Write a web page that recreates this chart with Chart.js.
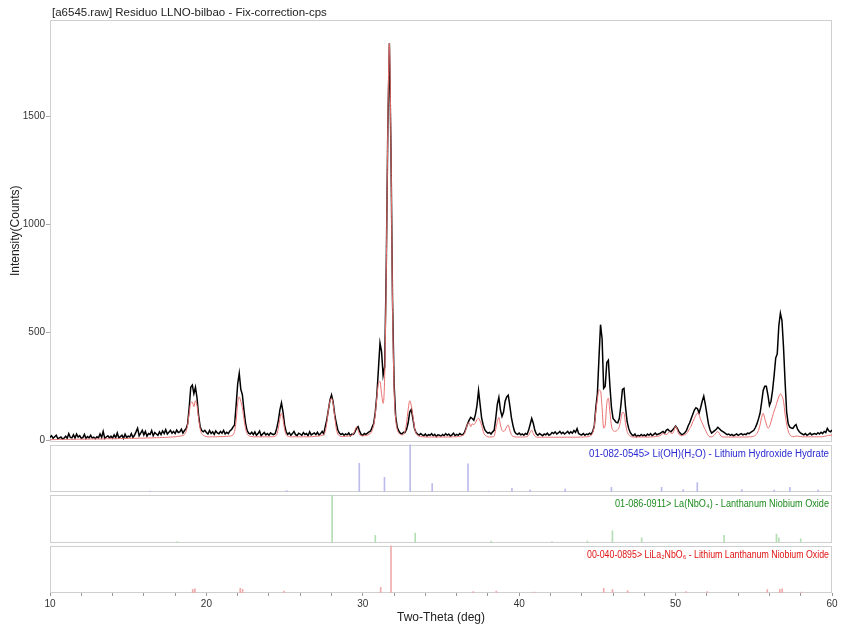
<!DOCTYPE html>
<html>
<head>
<meta charset="utf-8">
<script src="https://cdn.jsdelivr.net/npm/chart.js@4/dist/chart.umd.min.js"></script>
<style>
    html, body { margin: 0; padding: 0; background: #fff; }
    #wrap { width: 841px; height: 624px; }
</style>
</head>
<body>
<div id="wrap"><canvas id="xrd" width="841" height="624"></canvas></div>
<script>
const scanTitle = "[a6545.raw] Residuo LLNO-bilbao - Fix-correction-cps";
const scanStart = 10;
const scanStep = 0.1;
const yTickValues = [0, 500, 1000, 1500];

// measured counts, one row per degree (x.0 .. x.9)
const observed = [
    12, 20, 8, 15, 22, 6, 10, 14, 5, 9,
    18, 8, 30, 12, 10, 25, 9, 28, 14, 20,
    8, 11, 26, 7, 16, 10, 22, 9, 13, 6,
    15, 10, 28, 12, 40, 8, 14, 20, 10, 18,
    9, 24, 11, 33, 10, 16, 22, 8, 27, 12,
    18, 14, 30, 12, 22, 38, 55, 20, 32, 45,
    24, 40, 18, 30, 26, 44, 20, 35, 28, 22,
    38, 25, 42, 30, 48, 28, 36, 45, 32, 40,
    30, 46, 35, 38, 50, 32, 44, 52, 75, 150,
    245, 255, 215, 245, 195, 115, 62, 44, 38, 45,
    35, 28, 44, 30, 38, 26, 42, 33, 29, 40,
    32, 45, 28, 36, 30, 42, 48, 60, 70, 160,
    260, 310, 235, 210, 140, 80, 45, 32, 28, 36,
    25, 38, 22, 30, 42, 20, 28, 35, 24, 30,
    22, 33, 28, 25, 30, 55, 90, 140, 172, 130,
    70, 38, 26, 34, 22, 30, 40, 25, 20, 32,
    28, 22, 35, 26, 30, 20, 38, 24, 29, 33,
    25, 36, 22, 30, 40, 28, 62, 95, 140, 185,
    209, 178, 120, 80, 48, 32, 25, 30, 22, 28,
    24, 33, 20, 28, 26, 38, 55, 62, 40, 25,
    22, 30, 26, 32, 38, 42, 60, 78, 130, 210,
    330, 450, 410, 300, 340, 800, 1450, 1840, 1350, 650,
    260, 110, 60, 42, 32, 28, 36, 35, 50, 80,
    130, 142, 100, 55, 35, 28, 22, 30, 24, 20,
    28, 18, 25, 22, 30, 20, 26, 16, 24, 22,
    18, 26, 20, 30, 22, 28, 18, 24, 32, 20,
    26, 22, 30, 25, 25, 35, 55, 75, 92, 105,
    100, 92, 118, 160, 230, 165, 100, 70, 48, 38,
    32, 35, 28, 38, 45, 100, 165, 198, 140, 110,
    130, 180, 200, 208, 160, 105, 68, 40, 30, 26,
    32, 24, 28, 22, 30, 26, 45, 72, 100, 78,
    45, 28, 22, 30, 25, 20, 28, 24, 32, 22,
    26, 35, 30, 38, 28, 33, 40, 30, 36, 28,
    34, 40, 30, 38, 32, 44, 36, 53, 30, 26,
    24, 30, 22, 28, 25, 32, 26, 40, 65, 150,
    216, 380, 535, 470, 240, 250, 360, 370, 250, 150,
    100, 92, 82, 80, 100, 160, 235, 240, 150, 85,
    54, 35, 25, 20, 28, 16, 22, 18, 26, 20,
    24, 18, 28, 22, 30, 20, 26, 32, 24, 28,
    30, 35, 40, 32, 45, 50, 42, 38, 46, 55,
    65, 55, 40, 32, 24, 28, 35, 45, 65, 80,
    100, 120, 139, 150, 145, 125, 150, 180, 204, 165,
    120, 75, 48, 32, 38, 44, 50, 59, 52, 45,
    40, 35, 30, 25, 28, 22, 26, 20, 24, 28,
    22, 26, 30, 24, 28, 25, 32, 30, 35, 40,
    45, 58, 75, 98, 124, 175, 230, 250, 250, 210,
    160, 180, 230, 300, 380, 400, 530, 588, 555, 430,
    270, 130, 75, 60, 56, 54, 65, 72, 50, 40,
    32, 28, 24, 30, 22, 26, 32, 24, 28, 30,
    26, 34, 28, 36, 30, 40, 35, 54, 42, 38,
    46
];

// fitted profile (red)
const calculated = [
    2, 2, 2, 2, 2, 3, 3, 3, 3, 3,
    3, 3, 3, 3, 3, 3, 4, 4, 4, 4,
    4, 4, 4, 4, 4, 4, 5, 5, 5, 5,
    5, 5, 5, 5, 5, 5, 6, 6, 6, 6,
    6, 6, 6, 6, 7, 7, 7, 7, 7, 7,
    7, 8, 8, 8, 8, 8, 8, 9, 9, 9,
    9, 9, 10, 10, 10, 10, 10, 11, 11, 11,
    11, 12, 12, 12, 12, 13, 13, 14, 14, 15,
    15, 16, 17, 18, 19, 21, 26, 40, 70, 125,
    172, 176, 155, 182, 160, 100, 52, 30, 22, 18,
    16, 15, 15, 15, 15, 15, 15, 15, 16, 16,
    16, 16, 17, 17, 18, 18, 20, 24, 40, 90,
    170, 200, 180, 150, 100, 55, 30, 20, 17, 16,
    15, 15, 15, 15, 15, 15, 15, 15, 15, 15,
    15, 15, 15, 16, 18, 25, 55, 100, 124, 95,
    50, 25, 18, 16, 15, 15, 15, 15, 15, 15,
    15, 15, 15, 15, 15, 15, 15, 16, 16, 17,
    17, 18, 19, 20, 22, 26, 40, 80, 140, 180,
    194, 170, 110, 55, 28, 20, 17, 16, 16, 17,
    18, 19, 20, 22, 28, 45, 60, 45, 25, 20,
    19, 20, 21, 23, 26, 32, 45, 70, 120, 200,
    262, 272, 215, 170, 300, 780, 1450, 1840, 1350, 640,
    240, 100, 50, 32, 26, 24, 26, 40, 80, 140,
    182, 160, 115, 60, 32, 22, 18, 16, 15, 15,
    14, 14, 14, 14, 14, 14, 14, 14, 14, 14,
    14, 14, 14, 14, 14, 14, 14, 15, 15, 15,
    15, 16, 17, 19, 22, 30, 50, 75, 80, 62,
    75, 72, 80, 95, 101, 88, 68, 40, 24, 18,
    15, 14, 14, 15, 18, 50, 85, 105, 70, 45,
    40, 45, 62, 70, 45, 25, 17, 15, 14, 14,
    14, 14, 14, 14, 15, 16, 22, 35, 46, 30,
    18, 14, 13, 13, 13, 13, 13, 13, 13, 13,
    13, 13, 13, 13, 13, 13, 13, 13, 13, 13,
    13, 13, 13, 13, 13, 13, 13, 13, 13, 14,
    14, 14, 15, 15, 16, 18, 22, 35, 65, 130,
    190, 232, 228, 150, 55, 70, 170, 194, 130, 65,
    45, 40, 42, 48, 62, 95, 128, 125, 75, 40,
    25, 18, 15, 14, 14, 14, 14, 14, 14, 14,
    14, 14, 14, 14, 14, 15, 15, 16, 17, 18,
    20, 25, 31, 28, 25, 30, 38, 32, 30, 45,
    65, 50, 28, 22, 20, 22, 25, 30, 40, 54,
    65, 85, 100, 115, 125, 118, 95, 80, 62, 48,
    32, 20, 15, 15, 18, 25, 35, 39, 30, 18,
    15, 14, 14, 14, 14, 14, 14, 14, 14, 14,
    14, 14, 14, 14, 14, 14, 14, 15, 15, 16,
    18, 22, 30, 45, 70, 105, 124, 100, 75, 55,
    62, 85, 110, 135, 155, 180, 200, 214, 205, 180,
    120, 75, 42, 25, 18, 16, 16, 18, 18, 17,
    16, 15, 15, 15, 15, 15, 15, 15, 15, 15,
    15, 15, 15, 15, 16, 17, 18, 20, 22, 22,
    23
];

// reference cards (stick patterns), relative intensity 0..100
const cardLabels = [
    "01-082-0545> Li(OH)(H\u2082O) - Lithium Hydroxide Hydrate",
    "01-086-0911> La(NbO\u2084) - Lanthanum Niobium Oxide",
    "00-040-0895> LiLa\u2082NbO\u2086 - Lithium Lanthanum Niobium Oxide"
];
const cardColors = ["#2a2ad2", "#1e8c1e", "#e01414"];
const stickColors = ["rgb(188,188,236)", "rgb(180,222,180)", "rgb(240,172,172)"];

const card1Angles = [16.47, 25.2, 29.84, 31.45, 33.09, 34.5, 36.79, 38.1, 39.6, 40.75, 43.0, 45.96, 49.17, 50.55, 51.45, 54.3, 56.37, 57.37, 59.17];
const card1Heights = [2, 3, 61, 31, 100, 18, 60, 2, 8, 4, 6, 10, 10, 5, 20, 5, 4, 10, 4];

const card2Angles = [18.14, 28.04, 30.8, 33.35, 38.2, 42.1, 44.36, 45.96, 47.83, 53.1, 56.45, 56.6, 58.0];
const card2Heights = [2, 100, 15, 20, 3, 2, 3, 25, 10, 15, 18, 10, 8];

const card3Angles = [19.06, 19.2, 22.1, 22.25, 24.9, 31.08, 31.74, 37.0, 38.47, 40.9, 45.34, 45.9, 46.87, 50.6, 51.96, 55.8, 56.6, 56.75, 58.0];
const card3Heights = [8, 9, 10, 8, 4, 12, 100, 3, 4, 2, 10, 7, 5, 3, 3, 7, 8, 9, 2];

const FONT = "'Liberation Sans', Arial, sans-serif";
const PANEL_GAP = 3;
const LABEL_WIDTHS = [240, 214, 242];

function toPoints(values) {
    return values.map((v, i) => ({ x: scanStart + i * scanStep, y: v }));
}

function toSticks(angles, heights) {
    return angles.map((a, i) => ({ x: a, y: heights[i] }));
}

function stickDataset(angles, heights, axis, color) {
    return {
        type: "bar",
        data: toSticks(angles, heights),
        yAxisID: axis,
        backgroundColor: color,
        barThickness: 1,
        borderWidth: 0
    };
}

function cardScale() {
    return {
        type: "linear",
        position: "left",
        stack: "xrd",
        stackWeight: 1,
        min: 0,
        max: 107,
        ticks: { display: false },
        grid: { display: false },
        border: { display: false }
    };
}

const framePlugin = {
    id: "frames",
    beforeDatasetsDraw(chart) {
        const { ctx, chartArea } = chart;
        const left = Math.round(chartArea.left) + 0.5;
        const width = Math.round(chartArea.right) - Math.round(chartArea.left) - 1;
        ctx.save();
        ctx.strokeStyle = "#cfcfcf";
        ctx.lineWidth = 1;
        const main = chart.scales.y;
        ctx.strokeRect(left, Math.round(main.top) + 0.5, width, Math.round(main.bottom - main.top) - 1);
        ["card1", "card2", "card3"].forEach(id => {
            const s = chart.scales[id];
            const top = Math.round(s.top + PANEL_GAP) + 0.5;
            ctx.strokeRect(left, top, width, Math.round(s.bottom) - top - 0.5);
        });
        ctx.restore();
    },
    afterDraw(chart) {
        const { ctx, chartArea } = chart;
        ctx.save();
        ctx.textBaseline = "alphabetic";
        ctx.fillStyle = "#222";
        ctx.font = "11.5px " + FONT;
        ctx.textAlign = "left";
        ctx.fillText(scanTitle, chartArea.left + 2, chartArea.top - 4);
        ctx.font = "10px " + FONT;
        ctx.textAlign = "right";
        ["card1", "card2", "card3"].forEach((id, i) => {
            const s = chart.scales[id];
            ctx.fillStyle = cardColors[i];
            ctx.fillText(cardLabels[i], chartArea.right - 3, s.top + PANEL_GAP + 12, LABEL_WIDTHS[i]);
        });
        ctx.restore();
    }
};

new Chart(document.getElementById("xrd"), {
    type: "line",
    data: {
        datasets: [{
            label: "Calculated",
            data: toPoints(calculated),
            yAxisID: "y",
            borderColor: "rgb(234, 112, 112)",
            borderWidth: 1,
            pointRadius: 0,
            cubicInterpolationMode: "monotone"
        }, {
            label: "Observed",
            data: toPoints(observed),
            yAxisID: "y",
            borderColor: "#000",
            borderWidth: 1.5,
            pointRadius: 0
        },
        stickDataset(card1Angles, card1Heights, "card1", stickColors[0]),
        stickDataset(card2Angles, card2Heights, "card2", stickColors[1]),
        stickDataset(card3Angles, card3Heights, "card3", stickColors[2])]
    },
    options: {
        responsive: false,
        animation: false,
        devicePixelRatio: 1,
        layout: { padding: { top: 20, right: 9, bottom: 0, left: 0 } },
        plugins: {
            legend: { display: false },
            tooltip: { enabled: false }
        },
        scales: {
            x: {
                type: "linear",
                min: 10,
                max: 60,
                offset: false,
                grid: { offset: false, drawOnChartArea: false, tickLength: 3, color: "#999" },
                border: { display: false },
                ticks: {
                    stepSize: 2,
                    autoSkip: false,
                    maxRotation: 0,
                    padding: 3,
                    color: "#333",
                    font: { family: FONT, size: 10, lineHeight: 1 },
                    callback: v => (v % 10 === 0 ? String(v) : "")
                },
                title: {
                    display: true,
                    text: "Two-Theta (deg)",
                    color: "#222",
                    font: { family: FONT, size: 12, lineHeight: 1 },
                    padding: { top: 0, bottom: 0 }
                }
            },
            card3: cardScale(),
            card2: cardScale(),
            card1: cardScale(),
            y: {
                type: "linear",
                position: "left",
                stack: "xrd",
                stackWeight: 8.35,
                min: -7,
                max: 1948,
                afterFit(scale) { scale.width = 50; },
                afterBuildTicks(scale) {
                    scale.ticks = yTickValues.map(v => ({ value: v }));
                },
                grid: { drawOnChartArea: false, tickLength: 4, color: "#aaa" },
                border: { display: false },
                ticks: {
                    autoSkip: false,
                    padding: 1,
                    color: "#333",
                    font: { family: FONT, size: 10 },
                    callback: v => String(v)
                },
                title: {
                    display: true,
                    text: "Intensity(Counts)",
                    color: "#222",
                    font: { family: FONT, size: 12 },
                    padding: { top: 8, bottom: 0 }
                }
            }
        }
    },
    plugins: [framePlugin]
});
</script>
</body>
</html>
